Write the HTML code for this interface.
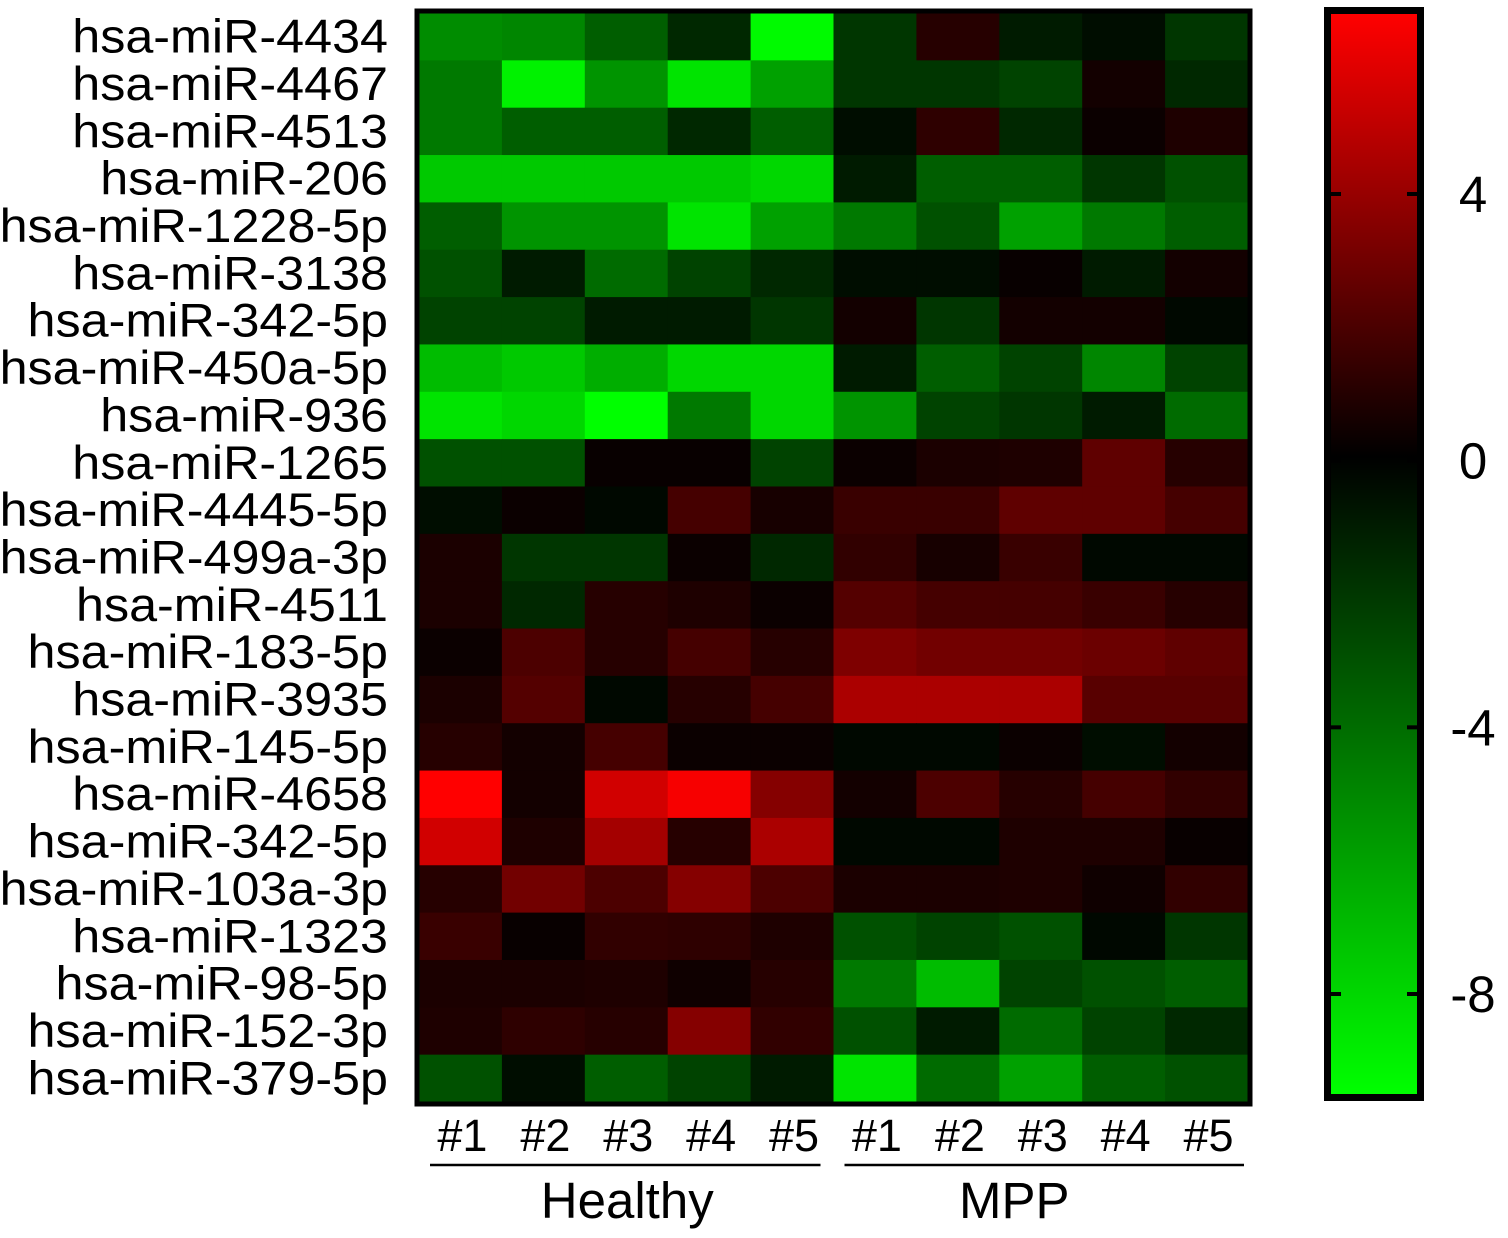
<!DOCTYPE html>
<html><head><meta charset="utf-8"><style>
body{margin:0;background:#fff;}
svg text{font-family:"Liberation Sans",Arial,sans-serif;fill:#000;}
</style></head><body>
<svg id="chart" width="1508" height="1233" xmlns="http://www.w3.org/2000/svg">
<defs><linearGradient id="cg" x1="0" y1="0" x2="0" y2="1">
<stop offset="0" stop-color="rgb(255,0,0)"/>
<stop offset="0.41" stop-color="rgb(0,0,0)"/>
<stop offset="1" stop-color="rgb(0,255,0)"/>
</linearGradient></defs>
<g id="cells"></g>
<g id="labels"></g>
</svg>
<script>
const rowLabels=["hsa-miR-4434","hsa-miR-4467","hsa-miR-4513","hsa-miR-206","hsa-miR-1228-5p","hsa-miR-3138","hsa-miR-342-5p","hsa-miR-450a-5p","hsa-miR-936","hsa-miR-1265","hsa-miR-4445-5p","hsa-miR-499a-3p","hsa-miR-4511","hsa-miR-183-5p","hsa-miR-3935","hsa-miR-145-5p","hsa-miR-4658","hsa-miR-342-5p","hsa-miR-103a-3p","hsa-miR-1323","hsa-miR-98-5p","hsa-miR-152-3p","hsa-miR-379-5p"];
const colLabels=["#1","#2","#3","#4","#5","#1","#2","#3","#4","#5"];
const groups=["Healthy","MPP"];
const colorTicks=[4,0,-4,-8];
const values=[
[-5.2,-5,-3.5,-1.5,-9.3,-2,1,-1,-0.5,-2],
[-4.5,-9,-5.5,-8.5,-6,-2,-2,-2.5,0.5,-1.5],
[-4.5,-3.5,-3.5,-1.5,-3.5,-0.5,1.2,-1.5,0.3,0.8],
[-7.5,-7.5,-7.5,-7.5,-8,-1,-3.5,-3.5,-2,-3],
[-3.5,-5.5,-5.5,-8.5,-6,-4.5,-3,-6,-4.5,-3.5],
[-3,-1,-4,-2.5,-1.5,-0.5,-0.5,0.2,-1,0.5],
[-2.5,-2.5,-1,-1,-2,0.5,-2,0.5,0.5,-0.3],
[-7,-7.5,-6.5,-8,-8,-1,-3.5,-2.5,-5,-2.5],
[-8.5,-8,-9.5,-4.5,-8,-5.5,-2.5,-2,-1,-4],
[-3,-3,0.2,0.2,-2.5,0.3,0.7,0.8,2.5,1],
[-0.5,0.3,-0.3,1.8,0.6,1.5,1.5,2.5,2.5,1.8],
[0.7,-2,-2,0.3,-1.5,1.3,0.6,1.5,-0.3,-0.3],
[0.7,-1.5,1,0.8,0.3,2.2,1.8,1.8,1.5,1],
[0.3,2,1,1.8,1,3.3,3,3,2.8,2.5],
[0.7,2.2,-0.3,1,1.8,4.5,4.5,4.5,2.3,2.3],
[1,0.5,1.8,0.3,0.3,-0.3,-0.3,0.3,-0.5,0.5],
[6.7,0.5,5.5,6.5,3.5,0.5,2,1,1.8,1.3],
[5.5,0.8,4.3,1,4.5,-0.3,-0.3,0.8,0.8,0.2],
[1,3,2,3.5,2,0.7,0.7,0.8,0.4,1.3],
[1.5,0.2,1.3,1.2,0.8,-3,-2.5,-3,-0.3,-2],
[0.7,0.7,0.8,0.4,1,-4.5,-7,-2.5,-3,-3.5],
[0.8,1.2,1,3.5,1.3,-3,-1,-4,-2.5,-1.5],
[-3,-0.5,-3.5,-2.5,-1,-8.5,-4,-6,-3.5,-3]
];
const NS="http://www.w3.org/2000/svg";
const hx0=419,hx1=1248,hy0=13,hy1=1102;
const cw=(hx1-hx0)/10,rh=(hy1-hy0)/23;
const vmax=6.7,vmin=-9.5;
const cbTop=14,cbBot=1094,cbL=1331,cbR=1417;
function xPos(i){return hx0+i*cw;}
function yPos(j){return hy0+j*rh;}
function cbY(v){return cbTop+(vmax-v)/(vmax-vmin)*(cbBot-cbTop);}
function color(v){
 if(v>=0){const r=Math.round(Math.min(1,v/vmax)*255);return `rgb(${r},0,0)`;}
 const g=Math.round(Math.min(1,v/vmin)*255);return `rgb(0,${g},0)`;
}
function mk(tag,attrs,parent){const e=document.createElementNS(NS,tag);for(const k in attrs)e.setAttribute(k,attrs[k]);parent.appendChild(e);return e;}
const svg=document.getElementById('chart');
const cells=document.getElementById('cells');
const labels=document.getElementById('labels');
values.forEach((row,j)=>row.forEach((v,i)=>{
 const r=mk('rect',{x:xPos(i),y:yPos(j),width:cw+0.6,height:rh+0.6,fill:color(v)},cells);
 
 
}));
const border=mk('rect',{x:hx0-2,y:hy0-2,width:hx1-hx0+4,height:hy1-hy0+4,fill:'none',stroke:'#000','stroke-width':5},svg);


rowLabels.forEach((t,j)=>{
 const e=mk('text',{x:388,y:yPos(j)+rh/2+16,'text-anchor':'end','font-size':47,transform:`translate(388 0) scale(1.07 1) translate(-388 0)`},labels);
 e.textContent=t;
 
 
});
colLabels.forEach((t,i)=>{
 const e=mk('text',{x:xPos(i)+cw/2+2,y:1151,'text-anchor':'middle','font-size':45},labels);
 e.textContent=t;
 
 
});
groups.forEach((g,k)=>{
 const x0=xPos(k*5)+11,x1=xPos(k*5+5)-(k==0?13:4);
 const l=mk('line',{x1:x0,x2:x1,y1:1165,y2:1165,stroke:'#000','stroke-width':2.5},svg);
 
 
 const e=mk('text',{x:(x0+x1)/2-k*32+2,y:1218,'text-anchor':'middle','font-size':51},labels);
 e.textContent=g;
 
 
});
const cb=mk('rect',{x:cbL,y:cbTop,width:cbR-cbL,height:cbBot-cbTop,fill:'url(#cg)'},svg);


const cbb=mk('rect',{x:cbL-3.5,y:cbTop-3.5,width:cbR-cbL+7,height:cbBot-cbTop+7,fill:'none',stroke:'#000','stroke-width':7},svg);


colorTicks.forEach(v=>{
 const y=cbY(v);
 const t1=mk('line',{x1:cbL,x2:cbL+10,y1:y,y2:y,stroke:'#000','stroke-width':4},svg);
 
 
 const t2=mk('line',{x1:cbR-10,x2:cbR,y1:y,y2:y,stroke:'#000','stroke-width':4},svg);
 
 
 const e=mk('text',{x:1473,y:y+18,'text-anchor':'middle','font-size':51},labels);
 e.textContent=String(v);
 
 
});
</script>
</body></html>
